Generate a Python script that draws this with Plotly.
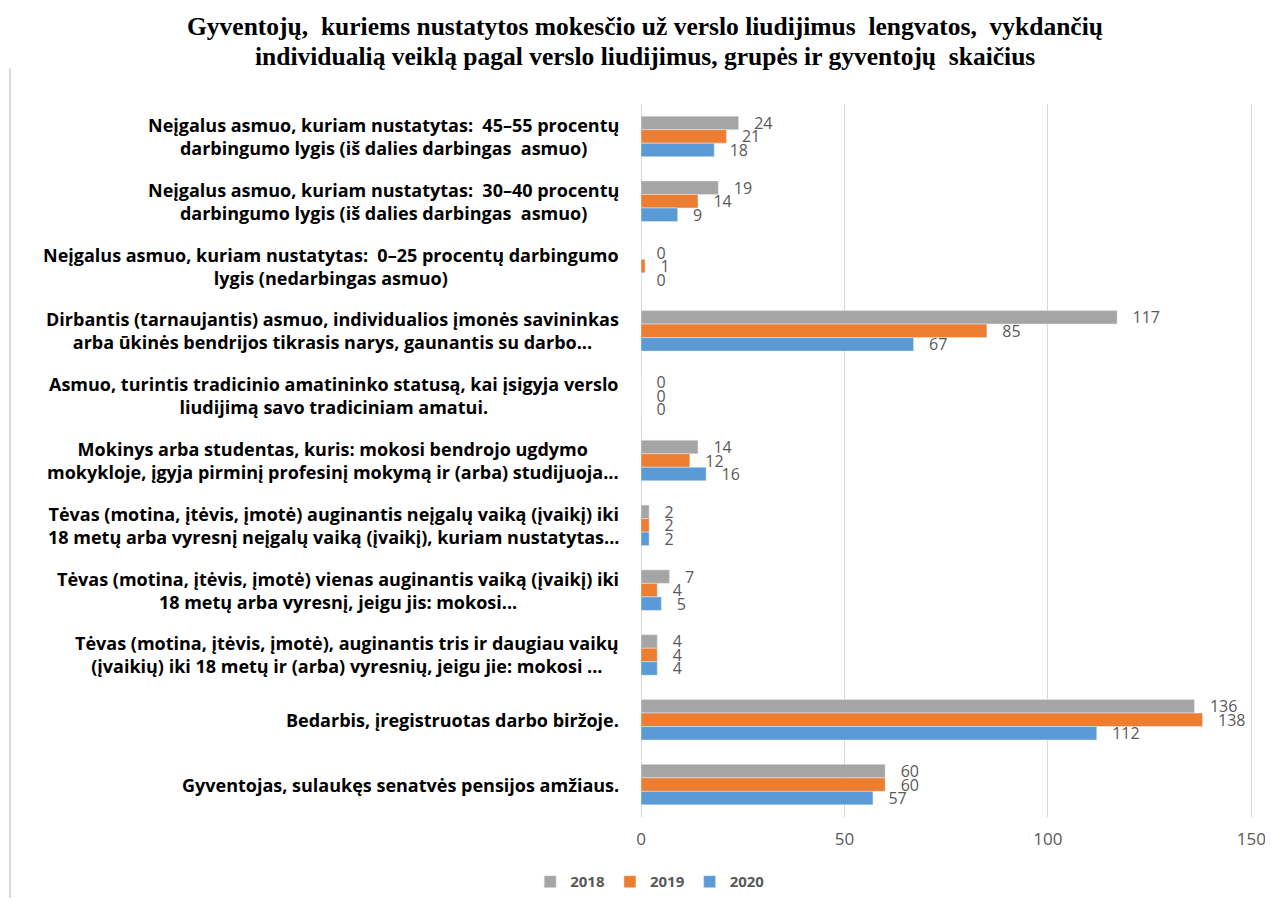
import plotly.graph_objects as go

title_lines = ['<b>Gyventojų,  kuriems nustatytos mokesčio už verslo liudijimus  lengvatos,  vykdančių</b>',
               '<b>individualią veiklą pagal verslo liudijimus, grupės ir gyventojų  skaičius</b>']

categories = [
    'Neįgalus asmuo, kuriam nustatytas:  45–55 procentų<br>darbingumo lygis (iš dalies darbingas  asmuo)',
    'Neįgalus asmuo, kuriam nustatytas:  30–40 procentų<br>darbingumo lygis (iš dalies darbingas  asmuo)',
    'Neįgalus asmuo, kuriam nustatytas:  0–25 procentų darbingumo<br>lygis (nedarbingas asmuo)',
    'Dirbantis (tarnaujantis) asmuo, individualios įmonės savininkas<br>arba ūkinės bendrijos tikrasis narys, gaunantis su darbo...',
    'Asmuo, turintis tradicinio amatininko statusą, kai įsigyja verslo<br>liudijimą savo tradiciniam amatui.',
    'Mokinys arba studentas, kuris: mokosi bendrojo ugdymo<br>mokykloje, įgyja pirminį profesinį mokymą ir (arba) studijuoja...',
    'Tėvas (motina, įtėvis, įmotė) auginantis neįgalų vaiką (įvaikį) iki<br>18 metų arba vyresnį neįgalų vaiką (įvaikį), kuriam nustatytas...',
    'Tėvas (motina, įtėvis, įmotė) vienas auginantis vaiką (įvaikį) iki<br>18 metų arba vyresnį, jeigu jis: mokosi...',
    'Tėvas (motina, įtėvis, įmotė), auginantis tris ir daugiau vaikų<br>(įvaikių) iki 18 metų ir (arba) vyresnių, jeigu jie: mokosi ...',
    'Bedarbis, įregistruotas darbo biržoje.',
    'Gyventojas, sulaukęs senatvės pensijos amžiaus.',
]
keys = ['c%d' % i for i in range(len(categories))]

years = ['2018', '2019', '2020']
v2018 = [24, 19, 0, 117, 0, 14, 2, 7, 4, 136, 60]
v2019 = [21, 14, 1, 85, 0, 12, 2, 4, 4, 138, 60]
v2020 = [18, 9, 0, 67, 0, 16, 2, 5, 4, 112, 57]
colors = ['#A5A5A5', '#ED7D31', '#5B9BD5']

fig = go.Figure()
for name, vals, col in zip(years, [v2018, v2019, v2020], colors):
    fig.add_trace(go.Bar(
        y=keys, x=vals, name='<b>' + name + '</b>', orientation='h',
        marker=dict(color=col),
        text=vals, texttemplate='   %{x}', textposition='outside',
        constraintext='none', cliponaxis=False,
        textfont=dict(family='Open Sans', size=16, color='#595959'),
    ))

# category labels, lines centred, block right-aligned near the axis
for k, c in zip(keys, categories):
    fig.add_annotation(x=0, xref='paper', xanchor='right', xshift=-20,
                       y=k, yref='y', text='<b>' + c + '</b>', align='center',
                       showarrow=False,
                       font=dict(family='Open Sans', size=18, color='#000000'))

# two title lines
for line, ty in zip(title_lines, [1.108, 1.067]):
    fig.add_annotation(x=0.0065, xref='paper', xanchor='center',
                       y=ty, yref='paper', yanchor='middle', text=line,
                       showarrow=False,
                       font=dict(family='Liberation Serif', size=25.5, color='#000000'))

fig.update_layout(
    width=1257, height=890,
    paper_bgcolor='white', plot_bgcolor='white',
    barmode='group', bargap=0.375, bargroupgap=0,
    margin=dict(l=633, r=12, t=96, b=81, autoexpand=False),
    legend=dict(orientation='h', x=0.015, xanchor='center', y=-0.091, yanchor='middle',
                font=dict(family='Open Sans', size=15, color='#595959'),
                itemwidth=30, traceorder='normal'),
    xaxis=dict(range=[0, 150.4], tickvals=[0, 50, 100, 150], showgrid=True, gridcolor='#D9D9D9',
               zeroline=True, zerolinecolor='#D9D9D9', zerolinewidth=1, showline=False,
               ticklabeloverflow='allow', ticklabelstandoff=10,
               tickfont=dict(family='Open Sans', size=17, color='#595959')),
    yaxis=dict(autorange='reversed', showticklabels=False, showgrid=False,
               zeroline=False, showline=False),
    shapes=[dict(type='line', xref='paper', yref='paper', x0=-1.031, x1=-1.031,
                 y0=-0.12, y1=1.05, line=dict(color='#D9D9D9', width=2))],
)

fig.write_html("out.html")
